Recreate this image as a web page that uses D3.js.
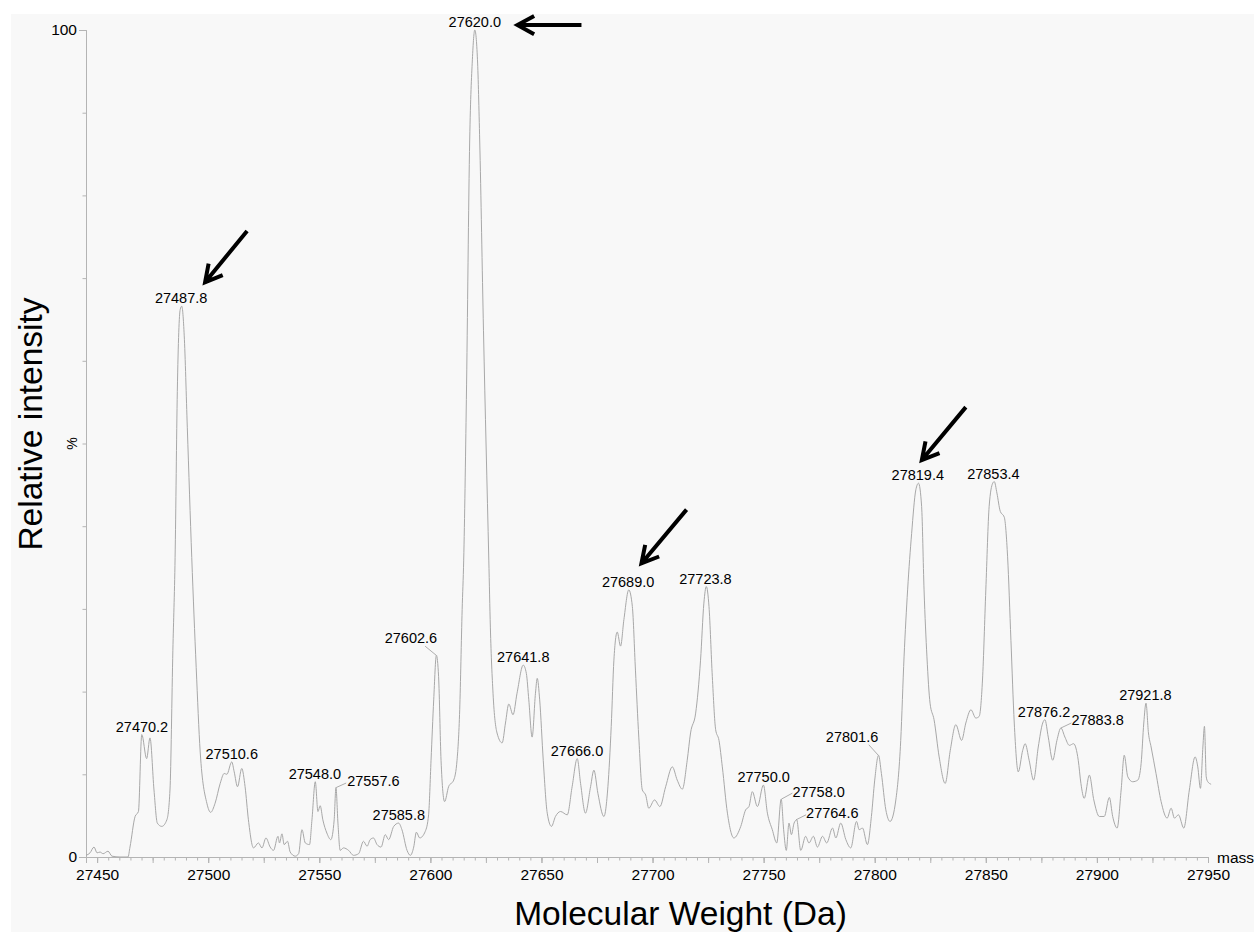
<!DOCTYPE html>
<html>
<head>
<meta charset="utf-8">
<script src="https://cdn.jsdelivr.net/npm/d3@7"></script>
<style>
    body { margin: 0; background: #fff; }
    svg { display: block; font-family: "Liberation Sans", Arial, Helvetica, sans-serif; }
</style>
</head>
<body>
<div id="chart"></div>
<script>
// deconvoluted spectrum, [mass (Da), relative intensity (%)]
const spectrum = [
    [27445.0, 0.2], [27446.8, 0.5], [27448.6, 1.2], [27450.0, 0.5], [27451.3, 0.6], [27452.7, 0.4],
    [27454.9, 0.7], [27456.7, 0.1], [27460.3, 0], [27463.9, 0], [27464.8, 1.2], [27467.1, 4.9],
    [27468.6, 5.5], [27470.1, 14.8], [27472.3, 11.9], [27473.8, 14.4], [27475.6, 8.1], [27477.1, 4.1],
    [27479.1, 3.7], [27481.4, 4.5], [27482.8, 8.1], [27484.1, 25.0], [27485.1, 36.2], [27486.1, 56.3],
    [27487.4, 66.2], [27488.1, 66.6], [27489.2, 63.1], [27490.6, 51.9], [27492.6, 36.2], [27494.6, 22.9],
    [27496.4, 12.7], [27499.4, 6.5], [27501.1, 5.4], [27503.1, 6.5], [27505.4, 8.9], [27507.2, 10.1],
    [27508.4, 10.0], [27510.6, 11.5], [27511.7, 10.3], [27513.2, 8.5], [27515.1, 10.7], [27516.6, 8.5],
    [27518.1, 4.5], [27520.4, 1.1], [27522.6, 1.7], [27524.2, 1.1], [27526.0, 2.3], [27527.9, 1.2],
    [27529.4, 0.8], [27531.4, 2.5], [27532.1, 1.7], [27533.2, 2.8], [27534.2, 1.5], [27535.7, 1.9],
    [27536.9, 0.6], [27539.2, 0.1], [27540.7, 0.4], [27542.2, 3.3], [27543.7, 1.7], [27545.6, 1.5],
    [27546.7, 4.5], [27548.2, 9.1], [27549.4, 5.5], [27550.4, 6.2], [27551.6, 4.5], [27553.4, 2.9],
    [27555.2, 2.1], [27556.7, 4.5], [27557.5, 8.4], [27558.4, 4.1], [27559.4, 0.8], [27560.9, 1.1],
    [27563.2, 0.8], [27565.4, 0.2], [27567.7, 0.4], [27569.9, 1.9], [27571.5, 1.3], [27572.9, 2.1],
    [27574.4, 2.3], [27576.0, 1.5], [27577.8, 1.2], [27579.7, 2.7], [27581.2, 2.1], [27583.5, 3.7],
    [27585.7, 4.1], [27587.2, 3.3], [27589.5, 0.8], [27591.0, 0.2], [27592.5, 1.2], [27593.7, 3.0],
    [27595.2, 2.3], [27597.7, 3.1], [27599.2, 5.1], [27600.3, 11.7], [27601.5, 19.0], [27602.7, 24.4],
    [27603.7, 21.8], [27604.8, 11.7], [27606.4, 6.7], [27608.2, 8.5], [27610.5, 9.3], [27612.0, 11.7],
    [27613.2, 17.8], [27614.3, 29.9], [27615.0, 35.9], [27616.2, 55.3], [27617.7, 86.7], [27618.9, 96.4],
    [27620.0, 100.0], [27621.2, 96.4], [27622.2, 86.7], [27623.9, 63.7], [27626.3, 35.9], [27627.0, 27.8],
    [27628.2, 19.8], [27630.0, 15.0], [27632.3, 13.8], [27633.8, 16.2], [27635.3, 18.5], [27637.2, 17.2],
    [27639.0, 19.8], [27641.8, 23.2], [27643.2, 22.2], [27644.3, 19.0], [27645.8, 14.5], [27647.3, 19.8],
    [27648.1, 21.6], [27649.2, 19.0], [27650.8, 11.7], [27652.6, 5.3], [27654.5, 3.7], [27656.3, 4.9],
    [27658.6, 5.5], [27661.6, 5.1], [27663.8, 8.5], [27666.1, 11.9], [27667.6, 8.9], [27669.8, 5.3],
    [27672.1, 8.5], [27673.6, 10.5], [27675.4, 7.7], [27678.1, 4.9], [27679.9, 8.5], [27681.4, 15.8],
    [27682.6, 23.8], [27684.1, 27.2], [27685.6, 25.5], [27687.1, 28.7], [27689.3, 32.3], [27690.9, 30.3],
    [27692.3, 22.6], [27693.8, 14.5], [27695.4, 8.1], [27696.9, 7.5], [27698.3, 5.9], [27700.9, 6.9],
    [27703.3, 6.1], [27705.9, 8.5], [27708.9, 10.9], [27711.1, 9.3], [27713.4, 8.2], [27715.6, 11.7],
    [27717.1, 15.0], [27719.4, 17.4], [27721.6, 23.8], [27723.1, 30.7], [27724.2, 32.7], [27725.4, 30.3],
    [27726.9, 21.8], [27728.4, 15.4], [27729.9, 14.1], [27731.4, 10.9], [27733.7, 5.3], [27736.6, 2.3],
    [27739.7, 3.7], [27741.9, 5.7], [27743.4, 6.1], [27744.9, 7.9], [27747.2, 6.1], [27749.9, 8.7],
    [27751.7, 5.3], [27753.9, 3.3], [27755.9, 1.7], [27757.9, 7.0], [27759.0, 3.3], [27760.2, 0.8],
    [27761.4, 4.1], [27762.5, 2.7], [27763.7, 4.1], [27764.9, 4.5], [27766.7, 0.8], [27768.9, 2.5],
    [27770.4, 1.7], [27772.4, 2.5], [27774.2, 1.2], [27776.5, 2.5], [27778.4, 1.7], [27781.0, 3.5],
    [27782.5, 2.3], [27784.7, 4.1], [27787.0, 2.1], [27789.2, 1.1], [27791.8, 4.3], [27793.0, 3.3],
    [27794.5, 3.5], [27796.7, 1.5], [27798.5, 4.9], [27800.0, 9.3], [27801.7, 12.3], [27803.0, 10.1],
    [27805.0, 5.7], [27806.9, 4.3], [27809.5, 6.9], [27811.7, 14.1], [27813.2, 24.2], [27814.8, 32.3],
    [27816.6, 39.1], [27818.5, 44.4], [27819.7, 45.2], [27821.1, 42.4], [27822.2, 32.3], [27823.5, 24.2],
    [27824.9, 18.6], [27826.7, 16.6], [27829.0, 12.1], [27831.7, 8.9], [27834.0, 12.9], [27836.5, 16.0],
    [27839.1, 14.1], [27841.0, 16.2], [27843.3, 17.8], [27845.5, 16.8], [27847.0, 17.0], [27848.5, 21.4],
    [27850.0, 32.3], [27851.5, 42.4], [27853.1, 45.2], [27853.8, 45.4], [27855.0, 44.0], [27856.5, 41.8],
    [27858.3, 41.1], [27859.8, 36.3], [27861.3, 26.2], [27862.8, 16.2], [27864.6, 10.3], [27866.6, 12.9],
    [27867.7, 13.7], [27869.5, 11.7], [27871.5, 9.3], [27873.6, 13.3], [27875.6, 16.2], [27876.6, 16.6],
    [27878.1, 14.5], [27880.1, 11.7], [27882.0, 14.1], [27883.8, 15.6], [27885.6, 14.5], [27887.6, 13.5],
    [27889.5, 13.7], [27891.6, 11.7], [27892.8, 8.9], [27894.3, 7.1], [27896.6, 9.9], [27898.6, 6.9],
    [27901.1, 4.9], [27903.3, 4.9], [27905.6, 7.2], [27907.1, 4.9], [27909.1, 3.5], [27910.9, 8.1],
    [27912.3, 12.3], [27913.9, 9.7], [27916.1, 9.1], [27918.4, 9.3], [27919.9, 11.3], [27921.1, 16.2],
    [27922.1, 18.6], [27923.2, 15.0], [27924.4, 13.3], [27926.6, 10.1], [27928.9, 6.7], [27931.6, 4.7],
    [27933.4, 5.9], [27934.9, 4.7], [27936.7, 5.1], [27939.1, 3.5], [27941.6, 8.1], [27944.2, 12.1],
    [27945.4, 10.9], [27946.6, 8.3], [27947.7, 13.3], [27948.4, 15.8], [27949.2, 9.7], [27949.9, 9.1],
    [27951.4, 8.8]
];

// labelled peaks
const peakMasses = [27470.2, 27487.8, 27510.6, 27548.0, 27557.6, 27585.8, 27602.6, 27620.0, 27641.8, 27666.0,
    27689.0, 27723.8, 27750.0, 27758.0, 27764.6, 27801.6, 27819.4, 27853.4, 27876.2, 27883.8, 27921.8];
const peakHeights = [14.8, 66.6, 11.5, 9.1, 8.4, 4.1, 24.4, 100.0, 23.2, 11.9,
    32.3, 32.7, 8.7, 7.0, 4.5, 12.3, 45.2, 45.4, 16.6, 15.6, 18.6];

// arrows pointing at the main species, [mass, intensity] of tail and tip
const arrowTails = [[27517.5, 75.7], [27668.0, 100.6], [27715.3, 42.0], [27841.0, 54.4]];
const arrowTips = [[27498.6, 69.5], [27639.2, 100.6], [27695.0, 35.5], [27821.2, 48.0]];

const xTicks = [27450, 27500, 27550, 27600, 27650, 27700, 27750, 27800, 27850, 27900, 27950];
const yTicks = [0, 100];

const width = 1254, height = 932;
const margin = {top: 30, right: 46, bottom: 75, left: 86};

// labels drawn next to the peak with a short leader line
const leaders = {
    "27557.6": {anchor: "start", dx: 11, dy: -1.5, lx: 10, ly: -4.5},
    "27602.6": {anchor: "end", dx: 1, dy: -12, lx: -11, ly: -9},
    "27758.0": {anchor: "start", dx: 11, dy: -2.5, lx: 11, ly: -6},
    "27764.6": {anchor: "start", dx: 10, dy: -1.5, lx: 10, ly: -5},
    "27801.6": {anchor: "end", dx: 0, dy: -13, lx: -9.5, ly: -10.5},
    "27883.8": {anchor: "start", dx: 10.5, dy: -2.5, lx: 10.5, ly: -5}
};

const svg = d3.select("#chart").append("svg")
    .attr("width", width)
    .attr("height", height);

svg.append("rect")
    .attr("x", 11).attr("y", 14)
    .attr("width", width - 11).attr("height", height - 14)
    .attr("fill", "#f8f8f8");

const x = d3.scaleLinear().domain([27445, 27950]).range([margin.left, width - margin.right]);
const y = d3.scaleLinear().domain([0, 100]).range([height - margin.bottom, margin.top]);

const axisColor = "#b4b4b4";

// x axis: minor ticks every 5 Da, longer ones every 25 Da, labels every 50 Da
svg.append("g")
    .attr("class", "axis axis--x-minor")
    .attr("transform", "translate(0," + y(0) + ")")
    .call(d3.axisBottom(x).tickValues(d3.range(27450, 27951, 5)).tickSize(3.5).tickFormat(""));

svg.append("g")
    .attr("class", "axis axis--x-mid")
    .attr("transform", "translate(0," + y(0) + ")")
    .call(d3.axisBottom(x).tickValues(d3.range(27450, 27951, 25)).tickSize(6).tickFormat(""));

svg.append("g")
    .attr("class", "axis axis--x")
    .attr("transform", "translate(0," + y(0) + ")")
    .call(d3.axisBottom(x).tickValues(xTicks).tickSize(6).tickPadding(6).tickFormat(d3.format("d")));

// y axis
svg.append("g")
    .attr("class", "axis axis--y-minor")
    .attr("transform", "translate(" + margin.left + ",0)")
    .call(d3.axisLeft(y).tickValues(d3.range(0, 101, 10)).tickSize(3.5).tickFormat(""));

svg.append("g")
    .attr("class", "axis axis--y")
    .attr("transform", "translate(" + margin.left + ",0)")
    .call(d3.axisLeft(y).tickValues(yTicks).tickSize(7).tickPadding(2));

svg.selectAll(".axis path.domain").attr("stroke", axisColor).attr("stroke-width", 1);
svg.selectAll(".axis line").attr("stroke", axisColor).attr("stroke-width", 1);
svg.selectAll(".axis text").attr("fill", "#000").style("font-size", "15.5px");
svg.selectAll(".axis--x text").attr("dy", "0.71em");

// the trace
const line = d3.line()
    .x((d) => x(d[0]))
    .y((d) => y(d[1]))
    .curve(d3.curveMonotoneX);

svg.append("path")
    .datum(spectrum)
    .attr("fill", "none")
    .attr("stroke", "#a8a8a8")
    .attr("stroke-width", 1)
    .attr("d", line);

// peak labels
const peaks = peakMasses.map((m, i) => ({mass: m, height: peakHeights[i], text: m.toFixed(1)}));

const labels = svg.append("g").attr("class", "peak-labels");

labels.selectAll("line")
    .data(peaks.filter((p) => leaders[p.text]))
    .enter()
    .append("line")
    .attr("x1", (p) => x(p.mass))
    .attr("y1", (p) => y(p.height))
    .attr("x2", (p) => x(p.mass) + leaders[p.text].lx)
    .attr("y2", (p) => y(p.height) + leaders[p.text].ly)
    .attr("stroke", "#999")
    .attr("stroke-width", 0.8);

labels.selectAll("text")
    .data(peaks)
    .enter()
    .append("text")
    .attr("x", (p) => x(p.mass) + (leaders[p.text] ? leaders[p.text].dx : 0))
    .attr("y", (p) => y(p.height) + (leaders[p.text] ? leaders[p.text].dy : -3))
    .attr("text-anchor", (p) => leaders[p.text] ? leaders[p.text].anchor : "middle")
    .style("font-size", "14.5px")
    .attr("fill", "#000")
    .text((p) => p.text);

// arrows
const arrows = svg.append("g").attr("class", "arrows");
arrowTips.forEach((tip, i) => {
    const tail = arrowTails[i];
    const x1 = x(tail[0]), y1 = y(tail[1]), x2 = x(tip[0]), y2 = y(tip[1]);
    const ang = Math.atan2(y2 - y1, x2 - x1);
    const head = 19, spread = 0.5;
    arrows.append("path")
        .attr("d", "M" + x1 + "," + y1 + "L" + x2 + "," + y2 +
            "M" + (x2 - head * Math.cos(ang - spread)) + "," + (y2 - head * Math.sin(ang - spread)) +
            "L" + x2 + "," + y2 +
            "L" + (x2 - head * Math.cos(ang + spread)) + "," + (y2 - head * Math.sin(ang + spread)))
        .attr("fill", "none")
        .attr("stroke", "#000")
        .attr("stroke-width", 4)
        .attr("stroke-linecap", "butt")
        .attr("stroke-linejoin", "miter");
});

// axis titles
svg.append("text")
    .attr("x", x(27700) + 28)
    .attr("y", 925)
    .attr("text-anchor", "middle")
    .style("font-size", "33.5px")
    .text("Molecular Weight (Da)");

svg.append("text")
    .attr("transform", "translate(42," + 424 + ") rotate(-90)")
    .attr("text-anchor", "middle")
    .style("font-size", "33.5px")
    .text("Relative intensity");

svg.append("text")
    .attr("transform", "translate(77," + y(50) + ") rotate(-90)")
    .attr("text-anchor", "middle")
    .style("font-size", "14px")
    .text("%");

svg.append("text")
    .attr("x", x(27950) + 9)
    .attr("y", y(0) + 5.5)
    .style("font-size", "15.5px")
    .text("mass");
</script>
</body>
</html>
